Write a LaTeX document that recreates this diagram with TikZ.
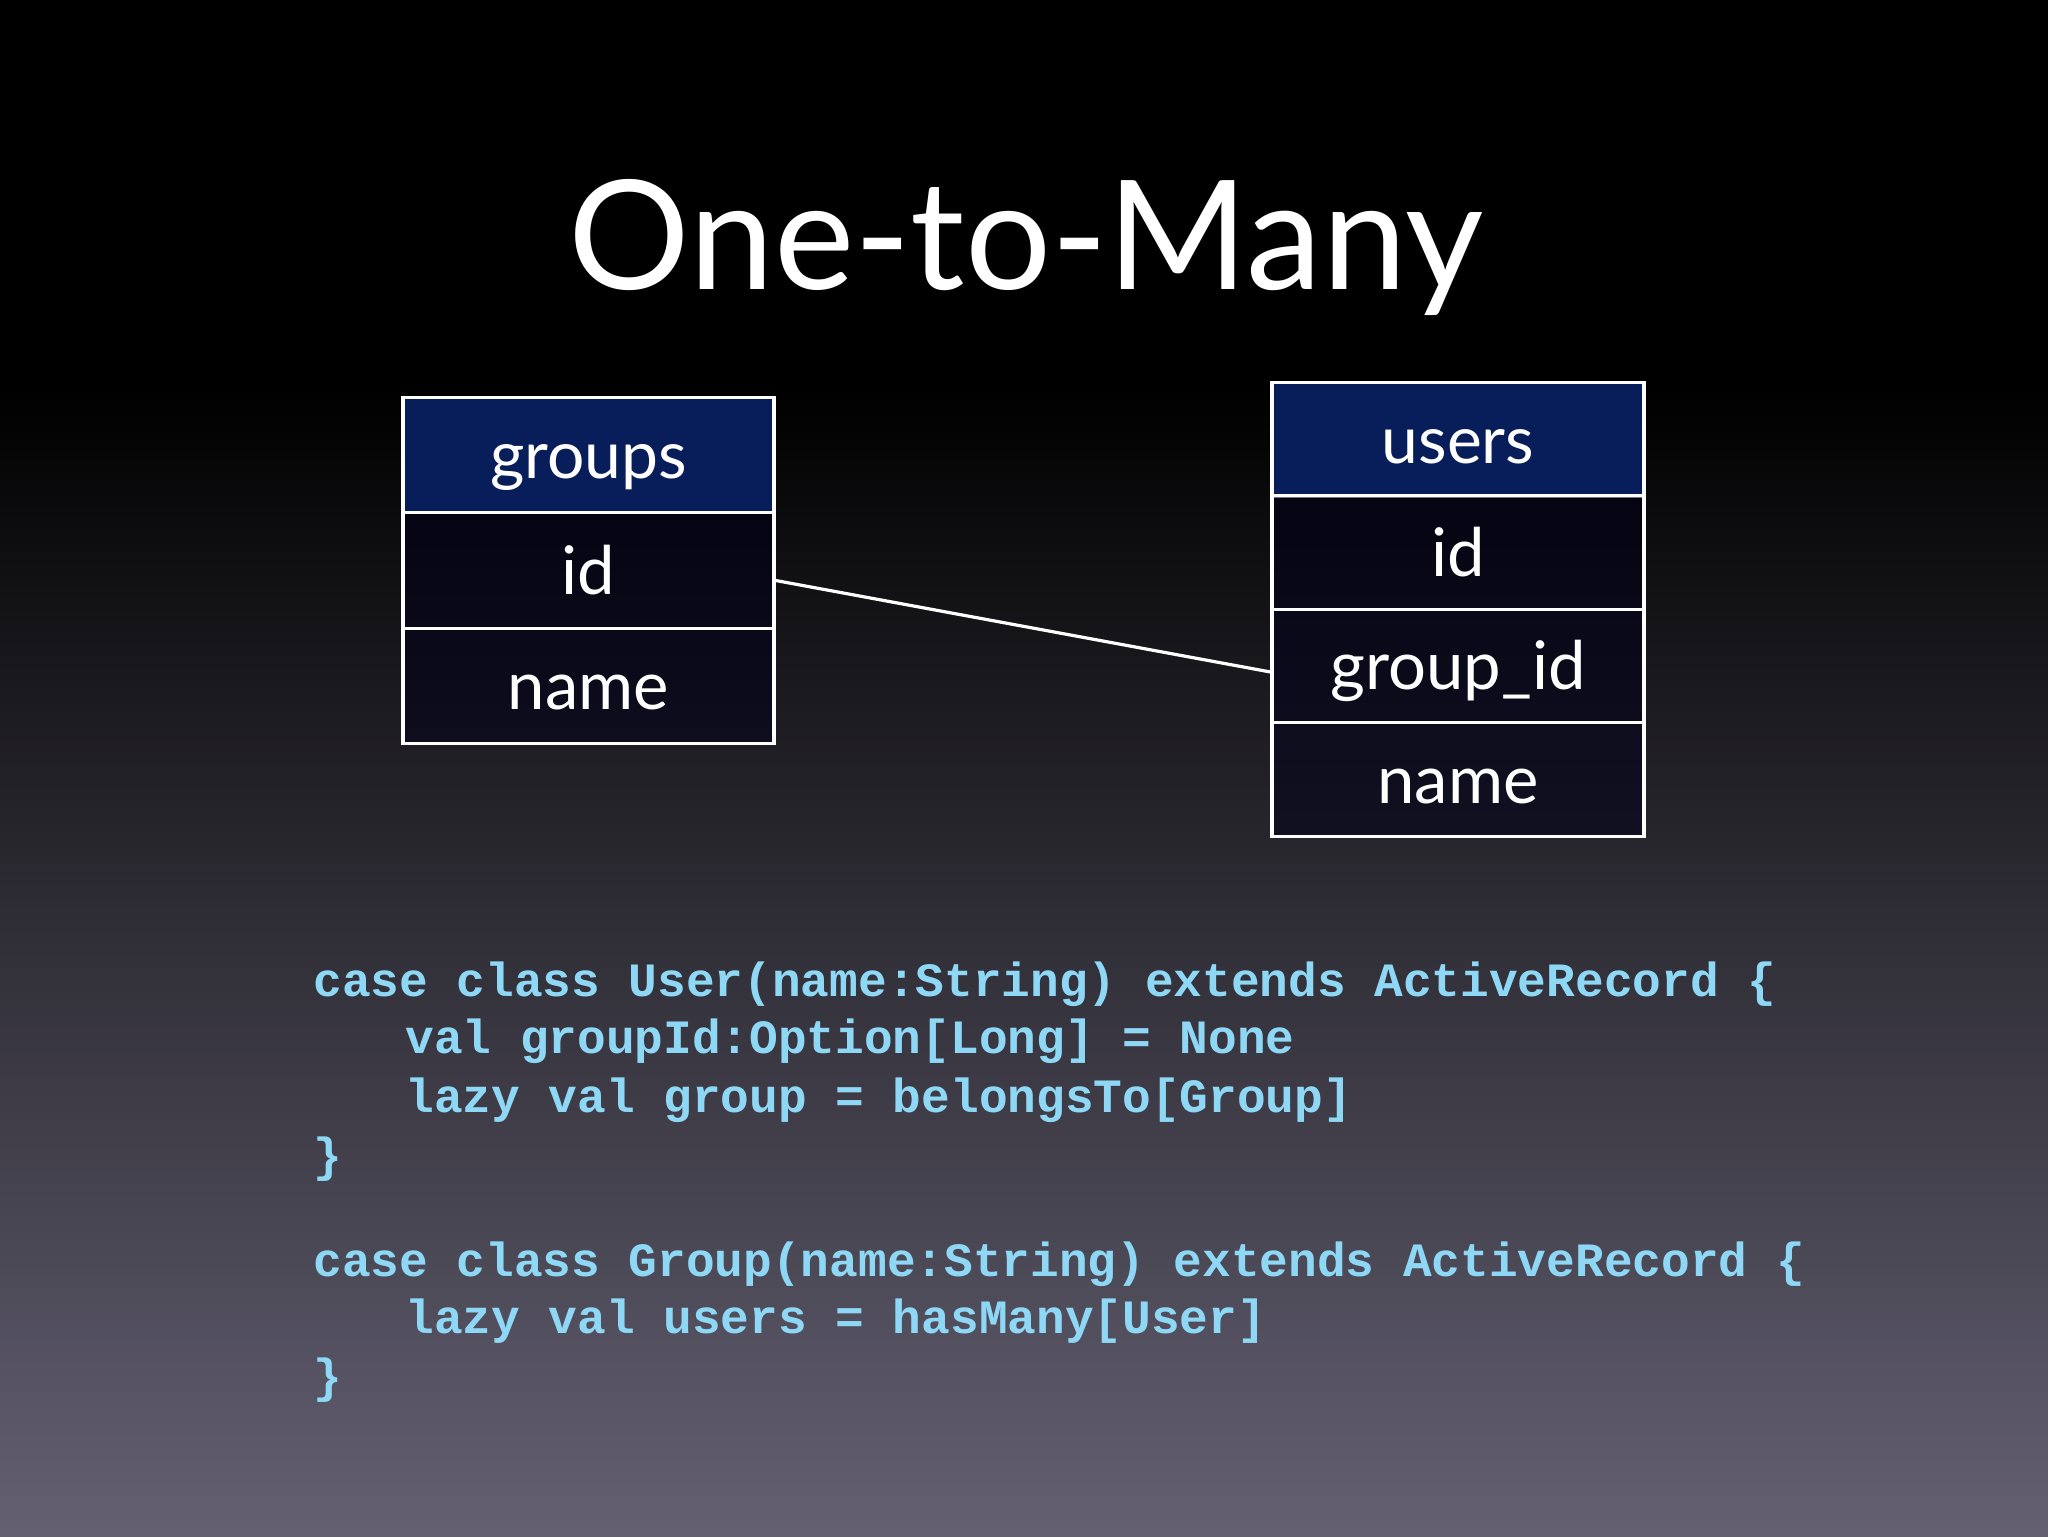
\documentclass[tikz,border=0pt]{standalone}
\usepackage{fontspec}
\setmainfont{Lato}
\newfontfamily\codefont{Liberation Mono}
\definecolor{bgbot}{RGB}{100,96,114}
\definecolor{hdrfill}{RGB}{8,30,90}
\definecolor{rowfill}{RGB}{0,0,25}
\definecolor{codecol}{RGB}{142,216,246}
\begin{document}
\begin{tikzpicture}[x=0.5bp,y=0.5bp,
  cell/.style={draw=white, line width=1.6bp, minimum width=185.5bp, text=white, inner sep=0pt, text height=28bp, text depth=4bp},
  hdr/.style={cell, fill=hdrfill, font=\fontsize{33bp}{40bp}\selectfont},
  row/.style={cell, fill=rowfill, fill opacity=0.55, text opacity=1, draw opacity=1, font=\fontsize{33.5bp}{40bp}\selectfont},
  code/.style={anchor=base west, inner sep=0pt, text=codecol, font=\codefont\bfseries\fontsize{23.9bp}{29bp}\selectfont},
  link/.style={draw=white, line width=1.6bp}]
\useasboundingbox (0,0) rectangle (2048,1536);
\fill[black] (0,1150) rectangle (2048,1536);
\shade[top color=black, bottom color=bgbot] (0,0) rectangle (2048,1151);
% title
\node[anchor=base, text=white, inner sep=0pt, font=\fontsize{76bp}{92bp}\selectfont] (title) at (1026,1246) {One-to-Many};
% groups table
\node[hdr, minimum height=57.75bp] (ghdr) at (588.5,1081) {groups};
\node[row, minimum height=57.75bp] (gid) at (588.5,965.5) {id};
\node[row, minimum height=57.75bp] (gname) at (588.5,850) {name};
% users table
\node[hdr, minimum width=186bp, minimum height=56.75bp] (uhdr) at (1458,1096.5) {users};
\node[row, minimum width=186bp, minimum height=56.75bp] (uid) at (1458,983.5) {id};
\node[row, minimum width=186bp, minimum height=56.75bp] (ugid) at (1458,870) {group\_id};
\node[row, minimum width=186bp, minimum height=56.75bp] (uname) at (1458,756.5) {name};
% connector
\draw[link] ([yshift=-5bp]gid.east) -- ([yshift=-3bp]ugid.west);
% code
\node[code] (c1) at (313,539.4) {case class User(name:String) extends ActiveRecord \{};
\node[code] (c2) at (405,482) {val groupId:Option[Long] = None};
\node[code] (c3) at (405,423.3) {lazy val group = belongsTo[Group]};
\node[code] (c4) at (313,364.5) {\}};
\node[code] (c5) at (313,260) {case class Group(name:String) extends ActiveRecord \{};
\node[code] (c6) at (405,202.5) {lazy val users = hasMany[User]};
\node[code] (c7) at (313,144) {\}};
\end{tikzpicture}
\end{document}
